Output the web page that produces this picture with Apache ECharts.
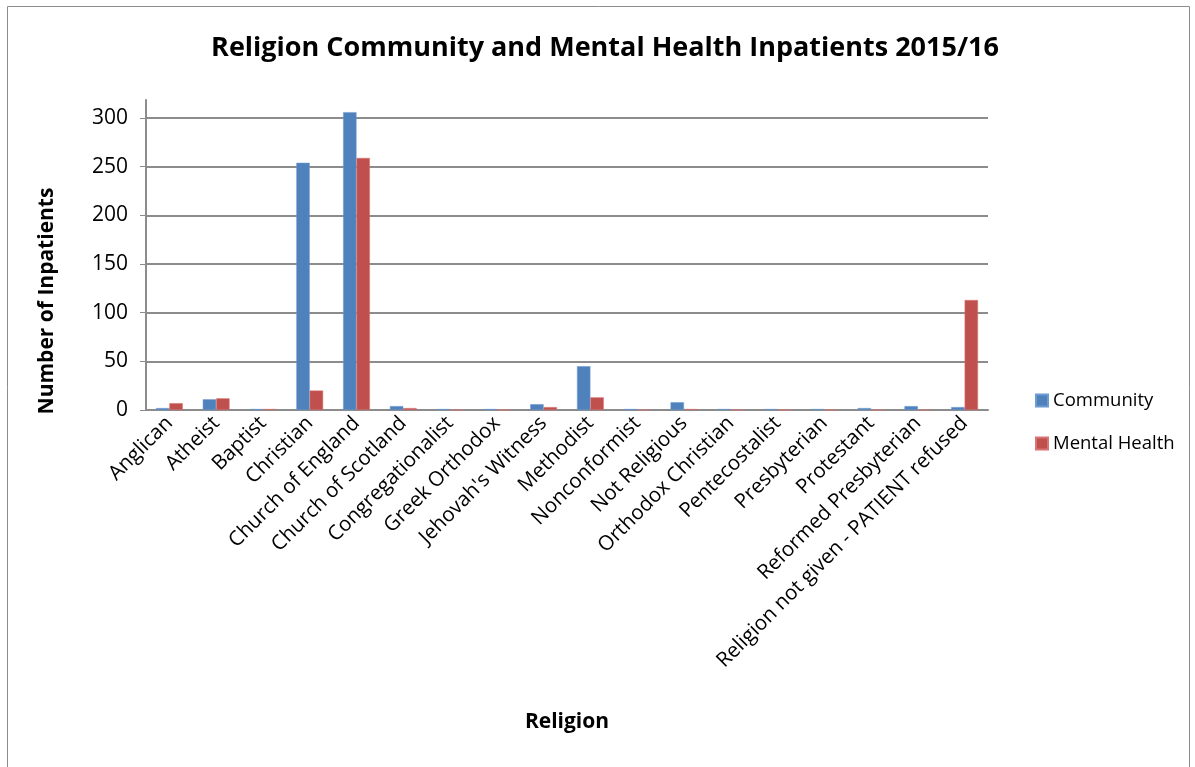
<!DOCTYPE html>
<html>
<head>
<meta charset="utf-8">
<script src="https://cdn.jsdelivr.net/npm/echarts@6/dist/echarts.min.js"></script>
<style>html,body{margin:0;padding:0;background:#fff;}#c{width:1195px;height:767px;}</style>
</head>
<body>
<div id="c"></div>
<script>
const categories = ["Anglican","Atheist","Baptist","Christian","Church of England","Church of Scotland","Congregationalist","Greek Orthodox","Jehovah's Witness","Methodist","Nonconformist","Not Religious","Orthodox Christian","Pentecostalist","Presbyterian","Protestant","Reformed Presbyterian","Religion not given - PATIENT refused"];
const community = [2, 11, 1, 254, 306, 4, 1, 1, 6, 45, 1, 8, 1, 1, 1, 2, 4, 3];
const mentalHealth = [7, 12, 1, 20, 259, 2, 0, 0, 3, 13, 0, 1, 0, 0, 0, 0, 0, 113];
const yTicks = [0, 50, 100, 150, 200, 250, 300];

const chart = echarts.init(document.getElementById('c'));
const font = "'Open Sans', sans-serif";
chart.setOption({
  animation: false,
  backgroundColor: '#fff',
  textStyle: {fontFamily: font},
  graphic: [
    {type: 'rect', shape: {x: 7.5, y: 6.5, width: 1182, height: 800}, style: {fill: 'none', stroke: '#8c8c8c', lineWidth: 1}, silent: true},
    {type: 'text', x: 605, y: 48, style: {text: 'Religion Community and Mental Health Inpatients 2015/16', font: "bold 27px 'Open Sans', sans-serif", fill: '#000', align: 'center', verticalAlign: 'middle'}},
    {type: 'text', x: 567, y: 722, style: {text: 'Religion', font: "bold 21px 'Open Sans', sans-serif", fill: '#000', align: 'center', verticalAlign: 'middle'}},
    {type: 'text', x: 47, y: 301, rotation: Math.PI / 2, style: {text: 'Number of Inpatients', font: "bold 21px 'Open Sans', sans-serif", fill: '#000', align: 'center', verticalAlign: 'middle'}}
  ],
  grid: {left: 146, right: 207, top: 100, bottom: 357, containLabel: false},
  legend: {
    orient: 'vertical', left: 1030, top: 386, itemWidth: 12, itemHeight: 12, itemGap: 24,
    icon: 'rect', textStyle: {fontSize: 18.5, color: '#000', fontFamily: font},
    data: ['Community', 'Mental Health']
  },
  xAxis: {
    type: 'category', data: categories,
    axisLine: {lineStyle: {color: '#8c8c8c', width: 2}},
    axisTick: {show: false},
    axisLabel: {rotate: 45, interval: 0, fontSize: 20.5, color: '#000', fontFamily: font, margin: 10}
  },
  yAxis: {
    type: 'value', min: 0, max: 318.5, interval: 50,
    axisLine: {show: true, lineStyle: {color: '#8c8c8c', width: 2}},
    axisTick: {show: true, inside: false, length: 6, lineStyle: {color: '#8c8c8c'}, customValues: yTicks},
    axisLabel: {fontSize: 21, color: '#000', fontFamily: font, margin: 18, customValues: yTicks},
    splitLine: {lineStyle: {color: '#8c8c8c', width: 2}}
  },
  series: [
    {name: 'Community', type: 'bar', data: community, barWidth: '28.6%', barGap: '0%',
      itemStyle: {color: '#4F81BD', borderColor: '#6d9bd1', borderWidth: 0.5}},
    {name: 'Mental Health', type: 'bar', data: mentalHealth, barWidth: '28.6%', barGap: '0%',
      itemStyle: {color: '#C0504D', borderColor: '#d87572', borderWidth: 0.5}}
  ]
});
</script>
</body>
</html>
